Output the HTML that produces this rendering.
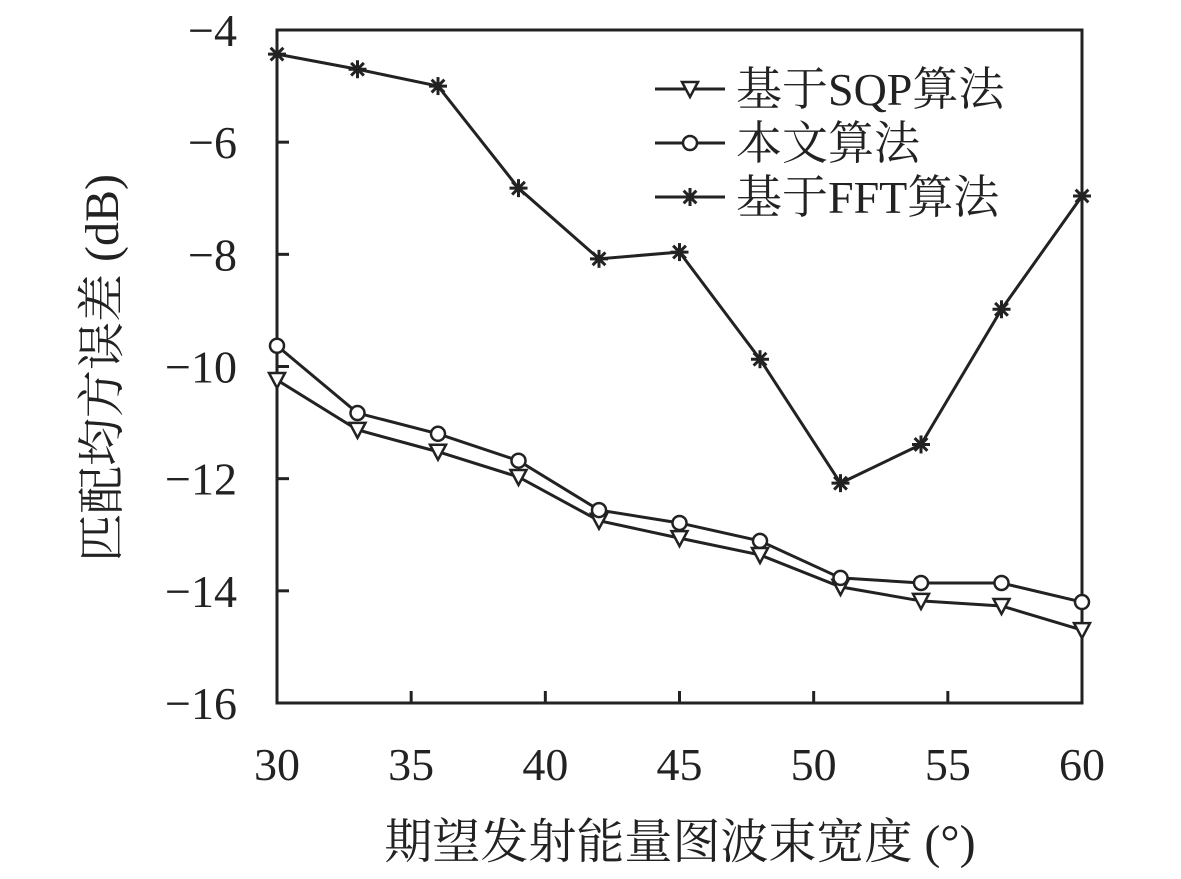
<!DOCTYPE html>
<html><head><meta charset="utf-8"><style>
body{margin:0;background:#fff}
svg text{font-family:"Liberation Serif","Noto Serif CJK SC",serif;fill:#222}
</style></head><body>
<svg id="c" width="1181" height="874" xmlns="http://www.w3.org/2000/svg"></svg>
<script>
const xs=[30,33,36,39,42,45,48,51,54,57,60];
const sqp=[-10.24,-11.13,-11.52,-11.97,-12.75,-13.06,-13.36,-13.93,-14.18,-14.27,-14.7];
const ours=[-9.63,-10.83,-11.2,-11.68,-12.56,-12.79,-13.11,-13.77,-13.86,-13.86,-14.2];
const fft=[-4.43,-4.7,-5.0,-6.82,-8.08,-7.96,-9.87,-12.08,-11.39,-8.98,-6.96];
const xTicks=[30,35,40,45,50,55,60];
const yTicks=[-4,-6,-8,-10,-12,-14,-16];
const NS="http://www.w3.org/2000/svg",svg=document.getElementById('c');
const L=277,R=1082,T=30,B=703;
const X=v=>L+(v-30)/30*(R-L), Y=v=>T+(-4-v)/12*(B-T);
function el(t,a,p){const e=document.createElementNS(NS,t);for(const k in a)e.setAttribute(k,a[k]);(p||svg).appendChild(e);return e;}
const frame=el('rect',{x:L,y:T,width:R-L,height:B-T,fill:'none',stroke:'#222','stroke-width':3});


xTicks.forEach(v=>{
 const t=el('line',{x1:X(v),x2:X(v),y1:B,y2:B-12,stroke:'#222','stroke-width':3});
 
 
 const l=el('text',{x:X(v),y:780,'font-size':46,'text-anchor':'middle'});l.textContent=v;
 
 
});
yTicks.forEach(v=>{
 const t=el('line',{x1:L,x2:L+12,y1:Y(v),y2:Y(v),stroke:'#222','stroke-width':3});
 
 
 const l=el('text',{x:237,y:Y(v)+16,'font-size':46,'text-anchor':'end'});l.textContent='\u2212'+(-v);
 
 
});
function marker(g,type,x,y){
 if(type==='tri'){el('path',{d:`M${x-8},${y-7}L${x+8},${y-7}L${x},${y+8}Z`,fill:'#fff',stroke:'#222','stroke-width':2.5},g);}
 else if(type==='circ'){el('circle',{cx:x,cy:y,r:7,fill:'#fff',stroke:'#222','stroke-width':2.5},g);}
 else{for(let a=0;a<180;a+=45){const r=a*Math.PI/180;el('line',{x1:x-9*Math.cos(r),y1:y-9*Math.sin(r),x2:x+9*Math.cos(r),y2:y+9*Math.sin(r),stroke:'#222','stroke-width':3},g);}}
}
function series(name,data,type){
 const g=el('g',{});
 
 
 el('polyline',{points:data.map((v,i)=>X(xs[i])+','+Y(v)).join(' '),fill:'none',stroke:'#222','stroke-width':3},g);
 data.forEach((v,i)=>marker(g,type,X(xs[i]),Y(v)));
}
series('series-fft',fft,'star');
series('series-sqp',sqp,'tri');
series('series-ours',ours,'circ');
[['基于SQP算法','tri',89],['本文算法','circ',143],['基于FFT算法','star',197]].forEach(([t,m,y])=>{
 const g=el('g',{});
 
 
 el('line',{x1:655,x2:725,y1:y,y2:y,stroke:'#222','stroke-width':3},g);
 marker(g,m,690,y);
 const tx=el('text',{x:736,y:y+16,'font-size':46},g);tx.textContent=t;
});
const xt=el('text',{x:680,y:858,'font-size':48,'text-anchor':'middle'});xt.textContent='期望发射能量图波束宽度 (°)';


const yt=el('text',{x:0,y:0,'font-size':48,'text-anchor':'middle',transform:'translate(118,368) rotate(-90)'});yt.textContent='匹配均方误差 (dB)';


</script>
</body></html>
